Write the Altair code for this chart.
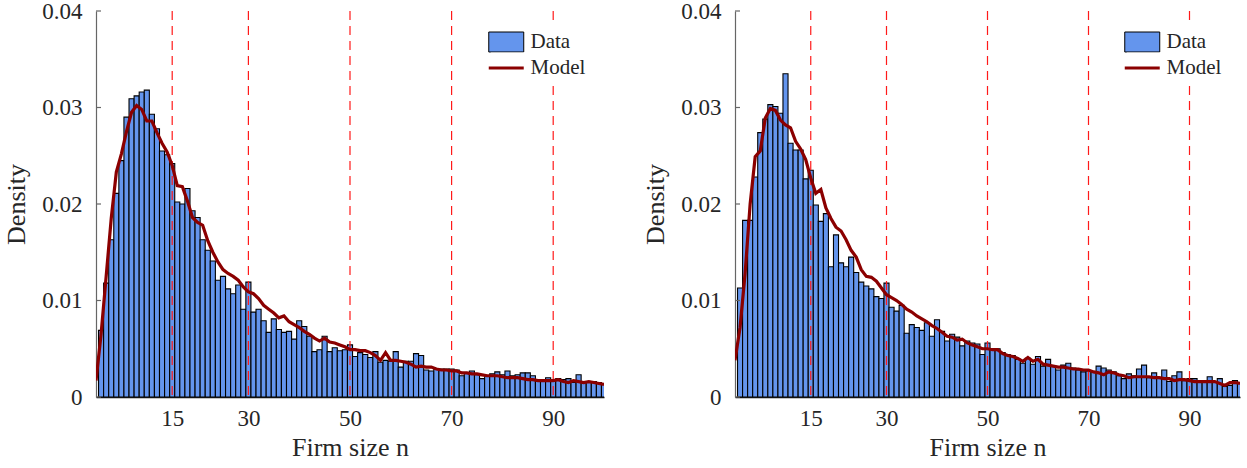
import altair as alt
import pandas as pd

# ---- data ----
sizes = list(range(1, 101))
model_x = list(range(0, 101))

left_data = [0.0069, 0.0118, 0.0163, 0.0211, 0.0245, 0.0290, 0.0309, 0.0312, 0.0316, 0.0318,
             0.0293, 0.0278, 0.0255, 0.0251, 0.0242, 0.0202, 0.0200, 0.0216, 0.0193, 0.0186,
             0.0163, 0.0152, 0.0141, 0.0121, 0.0125, 0.0112, 0.0107, 0.0116, 0.0091, 0.0119,
             0.0088, 0.0091, 0.0079, 0.0067, 0.0081, 0.0070, 0.0067, 0.0068, 0.0060, 0.0079,
             0.0073, 0.0063, 0.0047, 0.0049, 0.0063, 0.0047, 0.0051, 0.0048, 0.0049, 0.0054,
             0.0042, 0.0046, 0.0044, 0.0041, 0.0047, 0.0036, 0.0038, 0.0037, 0.0047, 0.0031,
             0.0037, 0.0037, 0.0045, 0.0043, 0.0028, 0.0027, 0.0029, 0.0029, 0.0029, 0.0029,
             0.0028, 0.0022, 0.0025, 0.0027, 0.0023, 0.0019, 0.0022, 0.0024, 0.0026, 0.0023,
             0.0027, 0.0022, 0.0023, 0.0025, 0.0025, 0.0022, 0.0018, 0.0018, 0.0020, 0.0017,
             0.0019, 0.0018, 0.0019, 0.0015, 0.0023, 0.0016, 0.0016, 0.0016, 0.0015, 0.0013]

left_model = [0.0017, 0.0065, 0.0125, 0.0185, 0.0233, 0.0252, 0.0275, 0.0295, 0.0302, 0.0298,
              0.0286, 0.0286, 0.0274, 0.0263, 0.0254, 0.0240, 0.0219, 0.0218, 0.0203, 0.0186,
              0.0181, 0.0178, 0.0162, 0.0150, 0.0140, 0.0132, 0.0128, 0.0125, 0.0121, 0.0114,
              0.0109, 0.0107, 0.0102, 0.0095, 0.0091, 0.0087, 0.0082, 0.0084, 0.0078, 0.0075,
              0.0072, 0.0068, 0.0065, 0.0061, 0.0058, 0.0061, 0.0057, 0.0056, 0.0054, 0.0052,
              0.0049, 0.0049, 0.0048, 0.0048, 0.0046, 0.0043, 0.0038, 0.0046, 0.0038, 0.0038,
              0.0037, 0.0036, 0.0034, 0.0031, 0.0032, 0.0031, 0.0031, 0.0029, 0.0028, 0.0028,
              0.0027, 0.0027, 0.0025, 0.0025, 0.0024, 0.0024, 0.0023, 0.0022, 0.0022, 0.0022,
              0.0021, 0.0020, 0.0020, 0.0020, 0.0019, 0.0018, 0.0018, 0.0017, 0.0017, 0.0017,
              0.0017, 0.0018, 0.0016, 0.0015, 0.0017, 0.0016, 0.0015, 0.0016, 0.0015, 0.0014,
              0.0013]

right_data = [0.0113, 0.0183, 0.0183, 0.0228, 0.0274, 0.0288, 0.0303, 0.0301, 0.0294, 0.0335,
              0.0263, 0.0256, 0.0256, 0.0226, 0.0235, 0.0199, 0.0182, 0.0190, 0.0135, 0.0168,
              0.0139, 0.0135, 0.0145, 0.0129, 0.0119, 0.0115, 0.0112, 0.0104, 0.0102, 0.0118,
              0.0093, 0.0089, 0.0095, 0.0066, 0.0075, 0.0072, 0.0069, 0.0077, 0.0063, 0.0080,
              0.0068, 0.0058, 0.0065, 0.0062, 0.0053, 0.0058, 0.0056, 0.0055, 0.0044, 0.0056,
              0.0050, 0.0050, 0.0046, 0.0044, 0.0043, 0.0039, 0.0035, 0.0040, 0.0034, 0.0042,
              0.0032, 0.0039, 0.0032, 0.0028, 0.0033, 0.0035, 0.0030, 0.0028, 0.0026, 0.0027,
              0.0026, 0.0032, 0.0030, 0.0028, 0.0026, 0.0022, 0.0019, 0.0024, 0.0022, 0.0029,
              0.0033, 0.0020, 0.0025, 0.0020, 0.0028, 0.0016, 0.0022, 0.0026, 0.0017, 0.0019,
              0.0019, 0.0017, 0.0015, 0.0021, 0.0016, 0.0019, 0.0011, 0.0012, 0.0017, 0.0015]

right_model = [0.0038, 0.0072, 0.0128, 0.0200, 0.0249, 0.0255, 0.0289, 0.0299, 0.0297, 0.0287,
               0.0282, 0.0279, 0.0265, 0.0257, 0.0246, 0.0227, 0.0211, 0.0215, 0.0196, 0.0185,
               0.0176, 0.0172, 0.0163, 0.0152, 0.0145, 0.0132, 0.0125, 0.0124, 0.0120, 0.0113,
               0.0106, 0.0103, 0.0100, 0.0096, 0.0091, 0.0088, 0.0084, 0.0081, 0.0078, 0.0074,
               0.0071, 0.0067, 0.0063, 0.0062, 0.0059, 0.0060, 0.0056, 0.0054, 0.0052, 0.0050,
               0.0050, 0.0049, 0.0049, 0.0045, 0.0043, 0.0042, 0.0040, 0.0037, 0.0041, 0.0037,
               0.0039, 0.0034, 0.0033, 0.0032, 0.0031, 0.0031, 0.0030, 0.0029, 0.0029, 0.0028,
               0.0028, 0.0026, 0.0025, 0.0023, 0.0026, 0.0025, 0.0023, 0.0022, 0.0020, 0.0021,
               0.0021, 0.0021, 0.0021, 0.0020, 0.0020, 0.0019, 0.0019, 0.0017, 0.0018, 0.0018,
               0.0017, 0.0016, 0.0016, 0.0016, 0.0016, 0.0016, 0.0014, 0.0012, 0.0015, 0.0015,
               0.0014]

cutoffs = [15, 30, 50, 70, 90]
y_ticks = [0, 0.01, 0.02, 0.03, 0.04]
x_ticks = [15, 30, 50, 70, 90]

FONT = "Liberation Serif"
TXT = "#262626"
BAR_FILL = "#6495ED"
MODEL_COL = "#8B0000"
RECT_PATH = "M-2,-1.143H2V1.143H-2Z"
LINE_PATH = "M-2,0H2"


def panel(data_vals, model_vals, w, h):
    bars_df = pd.DataFrame({"n": sizes, "density": data_vals})
    bars_df["lo"] = bars_df["n"] - 0.5
    bars_df["hi"] = bars_df["n"] + 0.5
    bars_df["series"] = "Data"
    model_df = pd.DataFrame({"n": model_x, "density": model_vals, "series": "Model"})
    cut_df = pd.DataFrame({"c": cutoffs})
    tick_df = pd.DataFrame({"t": y_ticks})

    xscale = alt.Scale(domain=[0, 100], nice=False, zero=False)
    yscale = alt.Scale(domain=[0, 0.04], nice=False)

    xaxis = alt.Axis(values=x_ticks, title="Firm size n", grid=False, ticks=False,
                     labelPadding=10, titlePadding=4, domainColor="#111111",
                     domainWidth=1.5, labelFlush=False,
                     labelFont=FONT, labelFontSize=23, labelColor=TXT,
                     titleFont=FONT, titleFontSize=26, titleColor=TXT,
                     titleFontWeight="normal")
    yaxis = alt.Axis(values=y_ticks, format="~g", title="Density", grid=False,
                     ticks=False, labelPadding=14, titlePadding=12,
                     domainColor="#666666", domainWidth=1.2,
                     labelFont=FONT, labelFontSize=23, labelColor=TXT,
                     titleFont=FONT, titleFontSize=26, titleColor=TXT,
                     titleFontWeight="normal")

    p1, p2 = 9, 5
    bars = alt.Chart(bars_df).mark_bar(stroke="black", strokeWidth=1.1, clip=True).encode(
        x=alt.X("lo:Q", scale=xscale, axis=xaxis),
        x2="hi:Q",
        y=alt.Y("density:Q", scale=yscale, axis=yaxis),
        y2=alt.datum(0),
        fill=alt.Fill("series:N",
                      scale=alt.Scale(domain=["Data"], range=[BAR_FILL]),
                      legend=alt.Legend(title=None, orient="none",
                                        legendX=w - 117 + 8.75 - p1,
                                        legendY=11.5, symbolType=RECT_PATH,
                                        symbolSize=306, symbolStrokeColor="black",
                                        symbolStrokeWidth=1, symbolOpacity=1,
                                        labelFont=FONT, labelFontSize=21,
                                        labelColor=TXT, labelOffset=13.75, padding=p1,
                                        fillColor="white")),
    )

    ticks = alt.Chart(tick_df).mark_rule(color="#666666", strokeWidth=1.2).encode(
        y=alt.Y("t:Q", scale=yscale),
        x=alt.value(0),
        x2=alt.value(5),
    )

    vlines = alt.Chart(cut_df).mark_rule(color="#FF1A1A", strokeWidth=1.2,
                                        strokeDash=[9, 6]).encode(
        x=alt.X("c:Q", scale=xscale),
    )

    line = alt.Chart(model_df).mark_line(strokeWidth=3.2, clip=True).encode(
        x=alt.X("n:Q", scale=xscale),
        y=alt.Y("density:Q", scale=yscale),
        stroke=alt.Stroke("series:N",
                          scale=alt.Scale(domain=["Model"], range=[MODEL_COL]),
                          legend=alt.Legend(title=None, orient="none",
                                            legendX=w - 117 + 8.75 - p2,
                                            legendY=41.4, symbolType=LINE_PATH,
                                            symbolSize=306, symbolStrokeWidth=3,
                                            labelFont=FONT, labelFontSize=21,
                                            labelColor=TXT, labelOffset=13.75, padding=p2,
                                            fillColor="white")),
    )

    return alt.layer(bars, ticks, vlines, line).properties(width=w, height=h).resolve_scale(
        fill="independent", stroke="independent")


left = panel(left_data, left_model, 508, 386)
right = panel(right_data, right_model, 505, 386)

chart = alt.hconcat(left, right, spacing=38).resolve_scale(
    fill="independent", stroke="independent"
).resolve_legend(fill="independent", stroke="independent").properties(
    padding={"left": 3, "top": 0, "right": 5, "bottom": 2}
).configure_axis(
    labelFont=FONT, labelFontSize=23, labelColor=TXT,
    titleFont=FONT, titleFontSize=26, titleColor=TXT, titleFontWeight="normal",
).configure_view(stroke=None)

chart.save("out.html", embed_options={"renderer": "svg", "actions": False})
